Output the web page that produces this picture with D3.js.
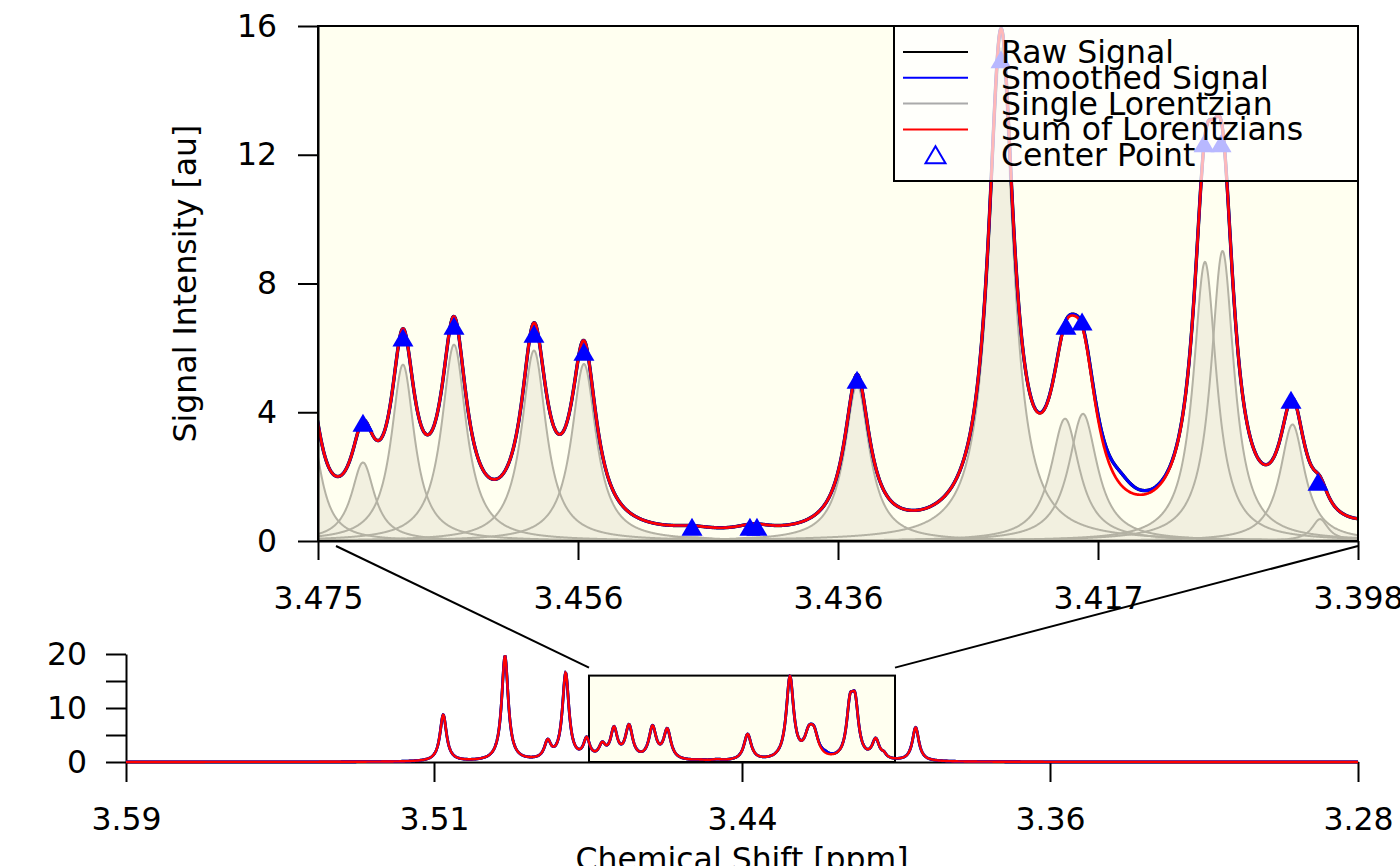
<!DOCTYPE html>
<html>
<head>
<meta charset="utf-8">
<script src="https://cdn.jsdelivr.net/npm/d3@7"></script>
<style>
  body { margin: 0; background: #fff; }
  svg { display: block; font-family: "DejaVu Sans", sans-serif; }
</style>
</head>
<body>
<svg id="chart" width="1400" height="866"></svg>
<script>
// fitted lorentzians (center ppm, height au, half width ppm)
const peakPpm = [3.51157, 3.49604, 3.4853, 3.48077, 3.47549, 3.47157, 3.46861, 3.46483, 3.45891, 3.45521,
  3.44721, 3.44292, 3.4424, 3.43499, 3.42433, 3.41959, 3.41826, 3.40923, 3.40793, 3.40275, 3.40071, 3.39271];
const peakHeight = [8.6, 19.4, 3.2, 16.0, 3.6, 2.44, 5.48, 6.1, 5.92, 5.5,
  0.12, 0.1, 0.1, 4.85, 15.3, 3.8, 3.95, 8.67, 9.01, 3.62, 0.68, 6.2];
const peakWidth = [0.001, 0.001, 0.001, 0.001, 0.00096, 0.00104, 0.00104, 0.00111, 0.00111, 0.00111,
  0.00185, 0.00148, 0.00148, 0.00111, 0.00111, 0.00129, 0.00129, 0.00104, 0.00104, 0.00111, 0.00074, 0.001];

// part of the measured signal the fit does not catch
const residPpm = [3.4155];
const residHeight = [0.38];
const residWidth = [0.0012];

// center points shown as triangles
const centerPpm = [3.47157, 3.46861, 3.46483, 3.45891, 3.45521, 3.44721, 3.44292, 3.4424, 3.43499,
  3.42433, 3.41952, 3.41833, 3.4093, 3.40804, 3.40286, 3.40086];
const centerValue = [3.67, 6.32, 6.69, 6.44, 5.88, 0.44, 0.44, 0.44, 5.01,
  14.97, 6.69, 6.82, 12.36, 12.36, 4.39, 1.84];

const mainDomain = [3.4749, 3.3979];
const mainTickLabels = ["3.475", "3.456", "3.436", "3.417", "3.398"];
const mainYTicks = [0, 4, 8, 12, 16];
const overviewDomain = [3.5914, 3.2814];
const overviewTickLabels = ["3.59", "3.51", "3.44", "3.36", "3.28"];
const overviewYTicks = [0, 5, 10, 15, 20];
const overviewYLabels = ["0", "", "10", "", "20"];
const legendLabels = ["Raw Signal", "Smoothed Signal", "Single Lorentzian", "Sum of Lorentzians", "Center Point"];
const legendColors = ["#000000", "#0000ff", "#aaaaaa", "#ff0000", "#0000ff"];

const FONT = 31.5;
const ivory = "#fffff0";
const fillColor = "#f2f0e0";
const grayLine = "#b4b2a4";

function lorentz(x, x0, a, w) {
  return a * w * w / ((x - x0) * (x - x0) + w * w);
}
function fitSum(x) {
  let s = 0;
  for (let i = 0; i < peakPpm.length; i++) s += lorentz(x, peakPpm[i], peakHeight[i], peakWidth[i]);
  return s;
}
function rawSignal(x) {
  let s = fitSum(x);
  for (let i = 0; i < residPpm.length; i++) s += lorentz(x, residPpm[i], residHeight[i], residWidth[i]);
  return s;
}
function grid(d, n) {
  return d3.range(n).map((i) => d[0] + (d[1] - d[0]) * i / (n - 1));
}

const svg = d3.select("#chart");

// ---------- main plot ----------
const plot = { left: 318, right: 1358, top: 26, bottom: 541 };
const x = d3.scaleLinear().domain(mainDomain).range([plot.left, plot.right]);
const y = d3.scaleLinear().domain([0, 16]).range([plot.bottom, plot.top]);

svg.append("defs").append("clipPath").attr("id", "clipMain")
  .append("rect")
  .attr("x", plot.left).attr("y", plot.top)
  .attr("width", plot.right - plot.left).attr("height", plot.bottom - plot.top);

svg.append("rect")
  .attr("x", plot.left).attr("y", plot.top)
  .attr("width", plot.right - plot.left).attr("height", plot.bottom - plot.top)
  .attr("fill", ivory);

const mainGrid = grid([mainDomain[0] + 0.002, mainDomain[1] - 0.002], 2400);
const inside = peakPpm.map((p, i) => i).filter((i) =>
  peakPpm[i] <= mainDomain[0] + 0.0008 && peakPpm[i] >= mainDomain[1] - 0.0008);

const g = svg.append("g").attr("clip-path", "url(#clipMain)");

// single lorentzians: areas first, then outlines
const area = d3.area().x((d) => x(d[0])).y0(y(0)).y1((d) => y(d[1]));
const line = d3.line().x((d) => x(d[0])).y((d) => y(d[1]));
const singles = inside.map((i) => mainGrid.map((v) => [v, lorentz(v, peakPpm[i], peakHeight[i], peakWidth[i])]));

g.selectAll(".lor-area").data(singles).join("path")
  .attr("class", "lor-area").attr("d", area).attr("fill", fillColor);
g.selectAll(".lor-line").data(singles).join("path")
  .attr("class", "lor-line").attr("d", line)
  .attr("fill", "none").attr("stroke", grayLine).attr("stroke-width", 2);

const rawData = mainGrid.map((v) => [v, rawSignal(v)]);
const sumData = mainGrid.map((v) => [v, fitSum(v)]);

g.append("path").attr("d", line(rawData)).attr("fill", "none").attr("stroke", "#000").attr("stroke-width", 3.4);
g.append("path").attr("d", line(rawData)).attr("fill", "none").attr("stroke", "#0000ff").attr("stroke-width", 3.1);
g.append("path").attr("d", line(sumData)).attr("fill", "none").attr("stroke", "#ff0000").attr("stroke-width", 2.7);

// center points
const triS = 21, triH = 18;
const triPath = `M0,${-triH / 2}L${triS / 2},${triH / 2}L${-triS / 2},${triH / 2}Z`;
g.selectAll(".cp").data(centerPpm).join("path")
  .attr("class", "cp")
  .attr("d", triPath)
  .attr("transform", (d, i) => `translate(${x(d)},${y(centerValue[i])})`)
  .attr("fill", "#0000ff");

// box
svg.append("rect")
  .attr("x", plot.left).attr("y", plot.top)
  .attr("width", plot.right - plot.left).attr("height", plot.bottom - plot.top)
  .attr("fill", "none").attr("stroke", "#000").attr("stroke-width", 2);

// axes
function styleAxis(sel) {
  sel.attr("font-size", FONT).attr("font-family", "DejaVu Sans");
  sel.selectAll("path,line").attr("stroke", "#000").attr("stroke-width", 2);
  sel.selectAll("text").attr("fill", "#000");
}

const mainTicks = grid(mainDomain, 5);
svg.append("g")
  .attr("transform", `translate(0,${plot.bottom})`)
  .call(d3.axisBottom(x).tickValues(mainTicks).tickSize(19).tickSizeOuter(0).tickPadding(27)
    .tickFormat((d, i) => mainTickLabels[i]))
  .call(styleAxis);

svg.append("g")
  .attr("transform", `translate(${plot.left},0)`)
  .call(d3.axisLeft(y).tickValues(mainYTicks).tickSize(20).tickSizeOuter(0).tickPadding(21)
    .tickFormat(d3.format("d")))
  .call(styleAxis);

svg.append("text")
  .attr("transform", `translate(196,${(plot.top + plot.bottom) / 2}) rotate(-90)`)
  .attr("text-anchor", "middle").attr("font-size", FONT)
  .text("Signal Intensity [au]");

// ---------- overview plot ----------
const ov = { left: 126, right: 1358, top: 654, bottom: 762 };
const ox = d3.scaleLinear().domain(overviewDomain).range([ov.left, ov.right]);
const oy = d3.scaleLinear().domain([0, 20]).range([ov.bottom, ov.top]);

// zoom window
svg.append("rect")
  .attr("x", ox(mainDomain[0])).attr("y", oy(16))
  .attr("width", ox(mainDomain[1]) - ox(mainDomain[0])).attr("height", oy(0) - oy(16))
  .attr("fill", ivory).attr("stroke", "#000").attr("stroke-width", 2);

const ovGrid = grid(overviewDomain, 3000);
const oline = d3.line().x((d) => ox(d[0])).y((d) => oy(d[1]));
const ovRaw = ovGrid.map((v) => [v, rawSignal(v)]);
const ovSum = ovGrid.map((v) => [v, fitSum(v)]);

svg.append("g")
  .attr("transform", `translate(0,${ov.bottom})`)
  .call(d3.axisBottom(ox).tickValues(grid(overviewDomain, 5)).tickSize(20).tickSizeOuter(0).tickPadding(26)
    .tickFormat((d, i) => overviewTickLabels[i]))
  .call(styleAxis);

svg.append("g")
  .attr("transform", `translate(${ov.left},0)`)
  .call(d3.axisLeft(oy).tickValues(overviewYTicks).tickSize(20).tickSizeOuter(0).tickPadding(19)
    .tickFormat((d, i) => overviewYLabels[i]))
  .call(styleAxis);

svg.append("path").attr("d", oline(ovRaw)).attr("fill", "none").attr("stroke", "#000").attr("stroke-width", 2.8);
svg.append("path").attr("d", oline(ovRaw)).attr("fill", "none").attr("stroke", "#0000ff").attr("stroke-width", 2.8);
svg.append("path").attr("d", oline(ovSum)).attr("fill", "none").attr("stroke", "#ff0000").attr("stroke-width", 2.4);

svg.append("text")
  .attr("x", (ov.left + ov.right) / 2).attr("y", 870)
  .attr("text-anchor", "middle").attr("font-size", FONT)
  .text("Chemical Shift [ppm]");

// connectors from the main plot to the zoom window
svg.append("line")
  .attr("x1", x(mainDomain[0]) + 18).attr("y1", plot.bottom + 5)
  .attr("x2", ox(mainDomain[0])).attr("y2", oy(16) - 8)
  .attr("stroke", "#000").attr("stroke-width", 2);
svg.append("line")
  .attr("x1", ox(mainDomain[1])).attr("y1", oy(16) - 8)
  .attr("x2", x(mainDomain[1])).attr("y2", plot.bottom + 5)
  .attr("stroke", "#000").attr("stroke-width", 2);

// ---------- legend ----------
const lg = svg.append("g");
lg.append("rect")
  .attr("x", 894).attr("y", plot.top).attr("width", plot.right - 894).attr("height", 155)
  .attr("fill", "#ffffff").attr("fill-opacity", 0.72)
  .attr("stroke", "#000").attr("stroke-width", 2);

const rowY = (i) => 52 + i * 25.8;
legendLabels.forEach((lab, i) => {
  if (i < 4) {
    lg.append("line")
      .attr("x1", 903).attr("x2", 968).attr("y1", rowY(i)).attr("y2", rowY(i))
      .attr("stroke", legendColors[i]).attr("stroke-width", 2);
  } else {
    lg.append("path")
      .attr("d", `M0,-9L10,8L-10,8Z`)
      .attr("transform", `translate(935.5,${rowY(i)})`)
      .attr("fill", "none").attr("stroke", legendColors[i]).attr("stroke-width", 2);
  }
  lg.append("text")
    .attr("x", 1001).attr("y", rowY(i) + 11)
    .attr("font-size", FONT)
    .text(lab);
});
</script>
</body>
</html>
